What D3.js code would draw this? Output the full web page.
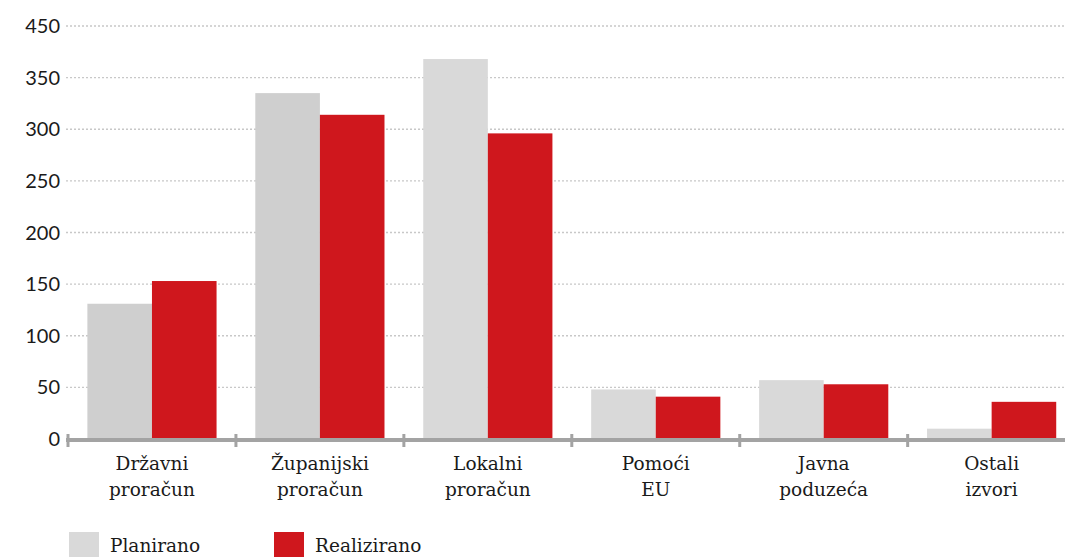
<!DOCTYPE html>
<html>
<head>
<meta charset="utf-8">
<script src="https://cdn.jsdelivr.net/npm/d3@7"></script>
<style>
  body { margin: 0; background: #fff; }
  svg { display: block; }
</style>
</head>
<body>
<div id="chart"></div>
<script>
(function()
{
    var width = 1065;
    var height = 557;

    // categories, split in two label lines
    var categories = ["Državni proračun", "Županijski proračun", "Lokalni proračun", "Pomoći EU", "Javna poduzeća", "Ostali izvori"];
    var labelLines = [["Državni", "proračun"], ["Županijski", "proračun"], ["Lokalni", "proračun"], ["Pomoći", "EU"], ["Javna", "poduzeća"], ["Ostali", "izvori"]];
    var series = ["Planirano", "Realizirano"];
    var planirano = [131, 335, 368, 48, 57, 10];
    var realizirano = [153, 314, 296, 41, 53, 36];
    var tickValues = [0, 50, 100, 150, 200, 250, 300, 350, 400];
    var tickLabels = ["0", "50", "100", "150", "200", "250", "300", "350", "450"];

    var planColors = ["#cfcfcf", "#cfcfcf", "#d9d9d9", "#d9d9d9", "#d9d9d9", "#d9d9d9"];
    var red = "#cf171d";

    var svg = d3.select("#chart").append("svg")
        .attr("width", width)
        .attr("height", height);

    var y = d3.scaleLinear().domain([0, 400]).range([439, 26]);

    var x = d3.scaleBand().domain(categories).range([68, 1075.6]).padding(0);
    var xs = d3.scaleBand().domain(series).range([0, x.bandwidth()]).paddingInner(0).paddingOuter(0.3);

    // dotted grid
    svg.selectAll(".grid").data(tickValues.filter(function(d){return d > 0;}))
        .enter().append("line")
        .attr("class", "grid")
        .attr("x1", 66).attr("x2", width)
        .attr("y1", function(d){return y(d);})
        .attr("y2", function(d){return y(d);})
        .attr("stroke", "#c8c8c8")
        .attr("stroke-width", 1.3)
        .attr("stroke-dasharray", "2,2");

    // y labels
    svg.selectAll(".ylab").data(tickValues)
        .enter().append("text")
        .attr("class", "ylab")
        .attr("x", 60)
        .attr("y", function(d){return y(d) + 7;})
        .attr("text-anchor", "end")
        .attr("font-family", "Lato, sans-serif")
        .attr("font-size", 20)
        .attr("fill", "#1a1a1a")
        .text(function(d, i){return tickLabels[i];});

    var groups = svg.selectAll(".cat").data(categories)
        .enter().append("g")
        .attr("class", "cat")
        .attr("transform", function(d){return "translate(" + x(d) + ",0)";});

    groups.append("rect")
        .attr("x", xs("Planirano"))
        .attr("width", xs.bandwidth())
        .attr("y", function(d, i){return y(planirano[i]);})
        .attr("height", function(d, i){return y(0) - y(planirano[i]);})
        .attr("fill", function(d, i){return planColors[i];});

    groups.append("rect")
        .attr("x", xs("Realizirano"))
        .attr("width", xs.bandwidth())
        .attr("y", function(d, i){return y(realizirano[i]);})
        .attr("height", function(d, i){return y(0) - y(realizirano[i]);})
        .attr("fill", red);

    // axis line and boundary ticks
    svg.append("line")
        .attr("x1", 66).attr("x2", width)
        .attr("y1", y(0) + 1).attr("y2", y(0) + 1)
        .attr("stroke", "#a3a3a3")
        .attr("stroke-width", 4);

    svg.selectAll(".tick").data(categories)
        .enter().append("line")
        .attr("class", "tick")
        .attr("x1", function(d){return x(d);})
        .attr("x2", function(d){return x(d);})
        .attr("y1", 434).attr("y2", 447)
        .attr("stroke", "#a3a3a3")
        .attr("stroke-width", 3);

    // category labels
    var lab = groups.append("text")
        .attr("text-anchor", "middle")
        .attr("font-family", "'DejaVu Serif', serif")
        .attr("font-size", 18.5)
        .attr("fill", "#1a1a1a");
    lab.selectAll("tspan").data(function(d, i){return labelLines[i];})
        .enter().append("tspan")
        .attr("x", x.bandwidth() / 2)
        .attr("y", function(d, j){return 470 + j * 26;})
        .text(function(d){return d;});

    // legend
    var legendColors = ["#d9d9d9", red];
    var legendX = [69, 274];
    var leg = svg.selectAll(".leg").data(series)
        .enter().append("g")
        .attr("class", "leg")
        .attr("transform", function(d, i){return "translate(" + legendX[i] + ",532)";});
    leg.append("rect")
        .attr("width", 30).attr("height", 26)
        .attr("fill", function(d, i){return legendColors[i];});
    leg.append("text")
        .attr("x", 41).attr("y", 20)
        .attr("font-family", "'DejaVu Serif', serif")
        .attr("font-size", 18.5)
        .attr("fill", "#1a1a1a")
        .text(function(d){return d;});
})();
</script>
</body>
</html>
